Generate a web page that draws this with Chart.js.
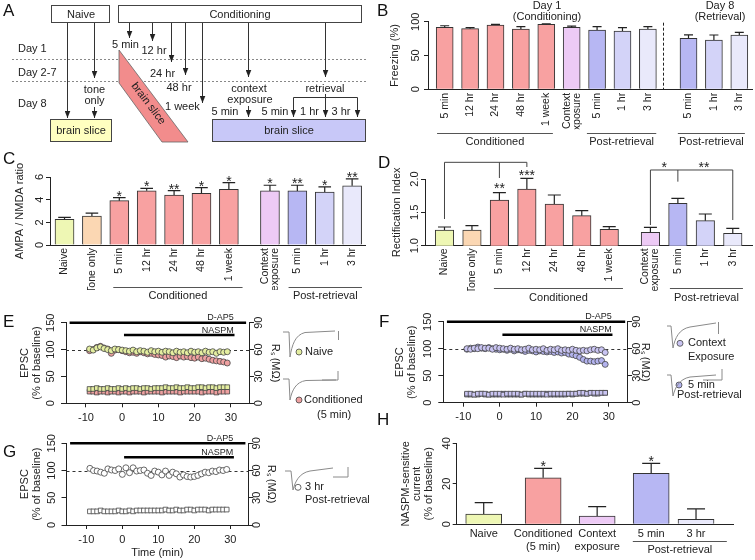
<!DOCTYPE html>
<html>
<head>
<meta charset="utf-8">
<title>AMPA receptor figure</title>
<script src="https://cdn.jsdelivr.net/npm/chart.js@4.4.1/dist/chart.umd.min.js"></script>
<style>
  html, body { margin: 0; padding: 0; background: #fff; }
  body { position: relative; width: 755px; height: 560px; overflow: hidden; }
  canvas { position: absolute; }
  #sketch { position: absolute; left: 0; top: 0; pointer-events: none; }
</style>
</head>
<body>
<canvas id="chB"></canvas>
<canvas id="chC"></canvas>
<canvas id="chD"></canvas>
<canvas id="chE"></canvas>
<canvas id="chF"></canvas>
<canvas id="chG"></canvas>
<canvas id="chH"></canvas>

<svg id="sketch" width="755" height="560" font-family="Liberation Sans, Arial, sans-serif">
  <defs>
    <marker id="ah" viewBox="0 0 10 8" refX="10" refY="4" markerWidth="7" markerHeight="6" markerUnits="userSpaceOnUse" orient="auto">
      <path d="M0,0 L10,4 L0,8 Z" fill="#222"/>
    </marker>
  </defs>
  <!-- panel letters -->
  <g font-size="17" fill="#111">
    <text x="3" y="15.5">A</text>
    <text x="377" y="15.5">B</text>
    <text x="3" y="163.5">C</text>
    <text x="378" y="168">D</text>
    <text x="3" y="327">E</text>
    <text x="379" y="327">F</text>
    <text x="3" y="457">G</text>
    <text x="377" y="425">H</text>
  </g>
  <!-- panel A: protocol -->
  <g font-size="11" fill="#222">
    <rect x="51.5" y="5.5" width="58" height="17" fill="#fff" stroke="#444"/>
    <text x="81" y="18" text-anchor="middle">Naive</text>
    <rect x="118.5" y="5.5" width="243" height="17" fill="#fff" stroke="#444"/>
    <text x="240" y="18" text-anchor="middle">Conditioning</text>
    <text x="18" y="52">Day 1</text>
    <text x="18" y="76">Day 2-7</text>
    <text x="18" y="107">Day 8</text>
    <g stroke="#888" stroke-dasharray="2 2">
      <line x1="12" y1="59.5" x2="367" y2="59.5"/>
      <line x1="12" y1="81.5" x2="367" y2="81.5"/>
    </g>
    <polygon points="119,50 119,83 162,142 188,142" fill="#f28c8c" stroke="#666" stroke-width="0.8"/>
    <text transform="translate(149,103) rotate(53)" text-anchor="middle" dy="4">brain slice</text>
    <g stroke="#333" marker-end="url(#ah)">
      <line x1="67.5" y1="23" x2="67.5" y2="118"/>
      <line x1="94.5" y1="23" x2="94.5" y2="78"/>
      <line x1="94.5" y1="107" x2="94.5" y2="118"/>
      <line x1="129.5" y1="23" x2="129.5" y2="38"/>
      <line x1="152.5" y1="23" x2="152.5" y2="41"/>
      <line x1="171.5" y1="23" x2="171.5" y2="62"/>
      <line x1="185.5" y1="23" x2="185.5" y2="75"/>
      <line x1="202.5" y1="23" x2="202.5" y2="103"/>
      <line x1="248.5" y1="23" x2="248.5" y2="77"/>
      <line x1="248.5" y1="106" x2="248.5" y2="117"/>
      <line x1="325.5" y1="23" x2="325.5" y2="77"/>
      <line x1="325.5" y1="94" x2="325.5" y2="117"/>
      <line x1="293.5" y1="97.5" x2="293.5" y2="117"/>
      <line x1="357.5" y1="97.5" x2="357.5" y2="117"/>
    </g>
    <line x1="293.5" y1="97.5" x2="357.5" y2="97.5" stroke="#333"/>
    <text x="94.5" y="93" text-anchor="middle">tone</text>
    <text x="94.5" y="104" text-anchor="middle">only</text>
    <text x="112" y="48">5 min</text>
    <text x="141.5" y="54">12 hr</text>
    <text x="150" y="77">24 hr</text>
    <text x="166.5" y="91">48 hr</text>
    <text x="165" y="110">1 week</text>
    <text x="249" y="92" text-anchor="middle">context</text>
    <text x="250" y="103" text-anchor="middle">exposure</text>
    <text x="211.5" y="114.5">5 min</text>
    <text x="325" y="92" text-anchor="middle">retrieval</text>
    <text x="261.5" y="114.5">5 min</text>
    <text x="300" y="114.5">1 hr</text>
    <text x="331.5" y="114.5">3 hr</text>
    <rect x="50.5" y="119.5" width="61" height="22" fill="#ffffc0" stroke="#444"/>
    <text x="81" y="134" text-anchor="middle">brain slice</text>
    <rect x="212.5" y="119.5" width="153" height="22" fill="#c8c8f8" stroke="#444"/>
    <text x="289" y="134" text-anchor="middle">brain slice</text>
  </g>
  <!-- sample EPSC traces with scale bars -->
  <g fill="none" stroke="#8a8a8a" stroke-width="1">
    <path d="M283,332 L289,332 L290,357 C292,345 295,335 305,332.5 L335,331"/>
    <path d="M338.5,331 V340"/>
    <path d="M283,379 L289,379 L290,400 C292,390 296,382 306,380.5 L336,380"/>
    <path d="M322,380 H338 V371"/>
    <path d="M667,326 L671,326 L673,348 C675,338 679,329 690,327 L716,323"/>
    <path d="M718.5,322 V334"/>
    <path d="M667,375 L671,375 L673,396 C675,388 679,379 690,377 L716,375"/>
    <path d="M703,380 H722 V369"/>
    <path d="M285,471 L291,471 L293,490 C295,482 299,473 310,471 L333,468"/>
    <path d="M333,477 H348 V467"/>
  </g>
</svg>

<script>
// ---------------- data ----------------
// B: freezing during conditioning (day 1) and retrieval (day 8)
const catB = ['5 min', '12 hr', '24 hr', '48 hr', '1 week', ['Context', 'exposure'], '5 min', '1 hr', '3 hr', '5 min', '1 hr', '3 hr'];
const freezing = [91.6, 89.7, 95, 89.2, 96, 91.6, 87.7, 86.2, 89.2, 75.4, 72.9, 80.3];
const freezingErr = [2.4, 1.5, 1, 3.4, 1, 2, 5, 5, 3.4, 5, 7.4, 4];
const ticksB = [0, 50, 100];

// C and D share the groups
const catCD = ['Naive', 'Tone only', '5 min', '12 hr', '24 hr', '48 hr', '1 week', ['Context', 'exposure'], '5 min', '1 hr', '3 hr'];
const ampaNmda = [2.27, 2.56, 3.91, 4.79, 4.41, 4.56, 4.91, 4.77, 4.77, 4.68, 5.23];
const ampaNmdaErr = [0.17, 0.25, 0.27, 0.2, 0.38, 0.5, 0.6, 0.5, 0.5, 0.45, 0.6];
const ampaStars = ['', '', '*', '*', '**', '*', '*', '*', '**', '*', '**'];
const ticksC = [0, 2, 4, 6];

const rectIndex = [1.235, 1.235, 1.685, 1.85, 1.625, 1.45, 1.245, 1.2, 1.635, 1.375, 1.185];
const rectErr = [0.045, 0.065, 0.11, 0.16, 0.135, 0.075, 0.04, 0.075, 0.075, 0.1, 0.075];
const ticksD = [1.0, 1.5, 2.0];

// E-G: time courses (one point per minute)
const timeMin = [-9, -8, -7, -6, -5, -4, -3, -2, -1, 0, 1, 2, 3, 4, 5, 6, 7, 8, 9, 10,
                 11, 12, 13, 14, 15, 16, 17, 18, 19, 20, 21, 22, 23, 24, 25, 26, 27, 28, 29];
const timeTicks = [-10, 0, 10, 20, 30];
const epscTicks = [0, 50, 100, 150];
const rsTicks = [0, 30, 60, 90];

const epscNaive = [101, 99, 103, 105, 102, 100, 98, 101, 100, 99,
                   98, 97, 99, 96, 98, 97, 95, 98, 96, 97,
                   95, 97, 96, 94, 97, 95, 96, 94, 97, 95,
                   96, 94, 97, 95, 96, 93, 96, 95, 96];
const epscCond5 = [98, 100, 104, 106, 103, 101, 93, 99, 100, 98,
                   96, 94, 95, 93, 96, 94, 92, 93, 91, 90,
                   89, 86, 88, 87, 85, 88, 86, 87, 85, 84,
                   86, 83, 84, 82, 80, 79, 78, 77, 75];
const rsNaive = [16, 16, 17, 16, 16, 17, 16, 16, 17, 16,
                 17, 16, 17, 17, 16, 17, 17, 16, 17, 17,
                 17, 18, 17, 17, 18, 17, 17, 18, 17, 17,
                 18, 18, 17, 18, 18, 17, 18, 18, 18];
const rsCond5 = [13, 13, 12, 13, 13, 12, 13, 13, 12, 13,
                 13, 12, 13, 13, 13, 12, 13, 13, 13, 13,
                 12, 13, 13, 13, 13, 12, 13, 13, 13, 13,
                 13, 12, 13, 13, 13, 12, 13, 13, 13];

const epscContext = [100, 99, 101, 100, 102, 101, 101, 99, 102, 101,
                     100, 99, 101, 99, 100, 98, 99, 101, 98, 99,
                     98, 100, 97, 99, 98, 100, 97, 98, 97, 99,
                     97, 96, 97, 96, 98, 99, 97, 98, 93];
const epscPost5 = [99, 101, 100, 103, 101, 100, 102, 100, 99, 98,
                   99, 97, 99, 96, 98, 97, 95, 97, 96, 94,
                   96, 95, 94, 95, 93, 94, 92, 93, 90, 89,
                   87, 84, 80, 77, 77, 76, 77, 78, 71];
const rsContext = [10, 10, 9, 10, 10, 10, 9, 10, 10, 10,
                   9, 10, 10, 10, 10, 9, 10, 10, 10, 10,
                   10, 10, 9, 10, 10, 10, 10, 10, 10, 10,
                   10, 11, 11, 10, 11, 11, 11, 11, 11];
const rsPost5 = [9, 9, 9, 9, 10, 9, 9, 9, 9, 9,
                 10, 9, 9, 9, 9, 9, 10, 9, 9, 9,
                 9, 9, 10, 9, 9, 9, 9, 9, 10, 9,
                 10, 10, 10, 10, 11, 10, 10, 11, 11];

const epscPost3h = [104, 100, 99, 97, 95, 103, 101, 100, 103, 93,
                    105, 96, 105, 99, 100, 101, 95, 91, 99, 97,
                    92, 99, 91, 97, 94, 88, 92, 89, 88, 89,
                    91, 94, 97, 96, 99, 98, 101, 100, 102];
const rsPost3h = [15, 15, 15, 16, 15, 15, 15, 15, 16, 15,
                  15, 16, 15, 16, 16, 16, 16, 16, 16, 16,
                  16, 17, 16, 16, 17, 16, 16, 17, 17, 16,
                  17, 17, 17, 16, 17, 17, 17, 17, 17];

// H: NASPM-sensitive current
const catH = ['Naive', ['Conditioned', '(5 min)'], ['Context', 'exposure'], '5 min', '3 hr'];
const naspm = [5.1, 23, 4.1, 25.2, 2.5];
const naspmErr = [5.6, 4.6, 4.6, 4.9, 5.1];
const naspmStars = ['', '*', '', '*', ''];
const ticksH = [0, 20, 40];

// ---------------- style ----------------
const FONT = '"Liberation Sans", Arial, sans-serif';
const INK = '#222';
const NAIVE = '#eef7b4', TONE = '#fbd7b3', COND = '#f8a1a1', CTX = '#edcaf5',
      P5 = '#b7b7f3', P1 = '#d3d3f8', P3 = '#e9e9fb';

Chart.defaults.font.family = FONT;
Chart.defaults.font.size = 11;
Chart.defaults.color = INK;
Chart.defaults.animation = false;
Chart.defaults.responsive = false;
Chart.defaults.plugins.legend.display = false;
Chart.defaults.plugins.tooltip.enabled = false;

// slot of each bar on its linear x axis (gaps between groups)
const slotB = catB.map((c, i) => i < 9 ? i + 1 : i + 1.6);
const slotCD = catCD.map((c, i) => i < 7 ? i + 1 : i + 1.5);
const slotH = [0.5, 1.6, 2.6, 3.6, 4.43];

// canvas placed so that the chart area lands on b.a (page px)
function place(id, b) {
  const cv = document.getElementById(id);
  cv.width = b.cr - b.cl;
  cv.height = b.cb - b.ct;
  cv.style.left = b.cl + 'px';
  cv.style.top = b.ct + 'px';
  return {
    cv,
    padding: {
      left: b.a.l - b.cl - b.yW,
      right: b.cr - b.a.r - (b.rW || 0),
      top: b.a.t - b.ct,
      bottom: b.cb - b.a.b - b.xH
    }
  };
}

// y tick labels drawn turned a quarter, as in the figure
const rotY = {
  id: 'rotY',
  afterDraw(chart, args, o) {
    const ctx = chart.ctx;
    ctx.save();
    ctx.fillStyle = INK;
    ctx.font = '11px ' + FONT;
    ctx.textAlign = 'center';
    ctx.textBaseline = 'middle';
    o.axes.forEach(ax => {
      const s = chart.scales[ax.id];
      const x = s.position === 'right' ? s.left + ax.off : s.right - ax.off;
      s.ticks.forEach(t => {
        ctx.save();
        ctx.translate(x, s.getPixelForValue(t.value));
        ctx.rotate(-Math.PI / 2);
        ctx.fillText((ax.fmt || String)(t.value), 0, 0);
        ctx.restore();
      });
    });
    ctx.restore();
  }
};

function yAxis(width, o) {
  return {
    position: o.pos || 'left',
    min: o.min, max: o.max,
    afterBuildTicks: s => { s.ticks = o.ticks.map(v => ({ value: v })); },
    afterFit: s => { s.width = width; },
    grid: { drawOnChartArea: false, tickLength: o.tl || 4, color: INK },
    border: { color: INK, width: 1 },
    ticks: { display: false },
    title: {
      display: true, text: o.title, color: INK,
      font: { size: 11, lineHeight: o.lh || 1.2 },
      padding: { top: o.tp, bottom: 0 }
    }
  };
}

function star(ctx, s, x, yc) {
  ctx.font = '14px ' + FONT;
  ctx.textAlign = 'center';
  ctx.textBaseline = 'alphabetic';
  ctx.fillText(s, x, yc + 0.57 * 14);
}

// error bars, stars, group lines, brackets
const barDeco = {
  id: 'barDeco',
  afterDatasetsDraw(chart, args, o) {
    const { ctx, chartArea: a } = chart;
    const xs = chart.scales.x, ys = chart.scales.y;
    const meta = chart.getDatasetMeta(0);
    const pts = chart.data.datasets[0].data;
    ctx.save();
    ctx.strokeStyle = INK;
    ctx.fillStyle = INK;
    ctx.lineWidth = 1.2;
    o.err.forEach((e, i) => {
      const x = meta.data[i].x;
      const y0 = ys.getPixelForValue(pts[i].y), y1 = ys.getPixelForValue(pts[i].y + e);
      ctx.beginPath();
      ctx.moveTo(x, y0); ctx.lineTo(x, y1);
      ctx.moveTo(x - o.cap, y1); ctx.lineTo(x + o.cap, y1);
      ctx.stroke();
      if (o.stars && o.stars[i]) star(ctx, o.stars[i], x, y1 - 5);
    });

    ctx.lineWidth = 1;
    ctx.strokeStyle = '#555';
    (o.groups || []).forEach(g => {
      const x0 = xs.getPixelForValue(g.from), x1 = xs.getPixelForValue(g.to);
      const y = Math.round(a.bottom + g.line) + 0.5;
      ctx.beginPath(); ctx.moveTo(x0, y); ctx.lineTo(x1, y); ctx.stroke();
      ctx.font = '11px ' + FONT;
      ctx.textAlign = 'center';
      ctx.textBaseline = 'middle';
      ctx.fillText(g.text, (x0 + x1) / 2, a.bottom + g.label);
    });

    if (o.vdash) {
      const x = Math.round(xs.getPixelForValue(o.vdash)) + 0.5;
      ctx.save();
      ctx.setLineDash([3, 2]);
      ctx.strokeStyle = INK;
      ctx.beginPath(); ctx.moveTo(x, a.top + 1); ctx.lineTo(x, a.bottom); ctx.stroke();
      ctx.restore();
    }

    (o.brackets || []).forEach(br => {
      const yt = ys.getPixelForValue(br.top);
      const xsb = br.legs.map(i => meta.data[i].x);
      ctx.strokeStyle = '#444';
      ctx.beginPath();
      ctx.moveTo(xsb[0], yt); ctx.lineTo(xsb[xsb.length - 1], yt);
      xsb.forEach((x, k) => { ctx.moveTo(x, yt); ctx.lineTo(x, ys.getPixelForValue(br.ends[k])); });
      ctx.stroke();
    });

    (o.texts || []).forEach(t => {
      const x = xs.getPixelForValue(t.x);
      const y = t.v !== undefined ? ys.getPixelForValue(t.v) : a.top + t.dy;
      if (t.star) { star(ctx, t.text, x, y); return; }
      ctx.font = '11px ' + FONT;
      ctx.textAlign = 'center';
      ctx.textBaseline = 'middle';
      ctx.fillText(t.text, x, y);
    });
    ctx.restore();
  }
};

function barChart(id, b, o) {
  const p = place(id, b);
  const ppu = (b.a.r - b.a.l) / (o.xMax - o.xMin);
  const fs = o.xFont || 11;
  const lhPx = fs * (o.xLh || 1.2);
  const shift = i => (o.rot && Array.isArray(o.cats[i])) ? -(o.cats[i].length - 1) * lhPx / 2 / ppu : 0;
  return new Chart(p.cv, {
    type: 'bar',
    data: {
      datasets: [{
        data: o.slots.map((s, i) => ({ x: s, y: o.values[i] })),
        backgroundColor: o.colors,
        borderColor: '#333',
        borderWidth: 1,
        barThickness: o.barW
      }]
    },
    options: {
      layout: { padding: p.padding },
      scales: {
        x: {
          type: 'linear', min: o.xMin, max: o.xMax, offset: false,
          afterBuildTicks: s => { s.ticks = o.slots.map((v, i) => ({ value: v + shift(i) })); },
          afterFit: s => { s.height = b.xH; },
          grid: { display: false, drawTicks: false },
          border: { color: INK, width: 1 },
          ticks: {
            autoSkip: false, minRotation: o.rot, maxRotation: o.rot, padding: o.xPad,
            color: INK, font: { size: fs, lineHeight: o.xLh || 1.2 },
            callback: (v, i) => o.cats[i]
          }
        },
        y: yAxis(b.yW, o.y)
      },
      plugins: {
        barDeco: o.deco,
        rotY: { axes: [{ id: 'y', off: o.y.off, fmt: o.y.fmt }] }
      }
    },
    plugins: [barDeco, rotY]
  });
}

// dashed baseline, drug bars, legend
const course = {
  id: 'course',
  beforeDatasetsDraw(chart, args, o) {
    const { ctx, chartArea: a } = chart;
    const y = Math.round(chart.scales.y.getPixelForValue(100)) + 0.5;
    ctx.save();
    ctx.strokeStyle = '#333';
    ctx.lineWidth = 1;
    ctx.setLineDash([3, 3]);
    ctx.beginPath(); ctx.moveTo(a.left, y); ctx.lineTo(a.right, y); ctx.stroke();
    ctx.restore();
  },
  afterDraw(chart, args, o) {
    const { ctx, chartArea: a } = chart;
    const xs = chart.scales.x, ys = chart.scales.y;
    ctx.save();
    o.drugs.forEach(d => {
      const y = ys.getPixelForValue(d.v);
      ctx.strokeStyle = '#000';
      ctx.lineWidth = 2.5;
      ctx.beginPath();
      ctx.moveTo(xs.getPixelForValue(d.from), y);
      ctx.lineTo(xs.getPixelForValue(d.to), y);
      ctx.stroke();
      ctx.font = '9px ' + FONT;
      ctx.fillStyle = INK;
      ctx.textAlign = 'right';
      ctx.textBaseline = 'alphabetic';
      ctx.fillText(d.text, xs.getPixelForValue(d.textAt), y - 2.5);
    });
    o.legend.forEach(l => {
      const ds = chart.data.datasets[l.ds];
      ctx.beginPath();
      ctx.arc(a.right + l.dx, a.top + l.dy, 3, 0, 2 * Math.PI);
      ctx.fillStyle = ds.backgroundColor;
      ctx.fill();
      ctx.lineWidth = 0.8;
      ctx.strokeStyle = ds.borderColor;
      ctx.stroke();
      ctx.fillStyle = INK;
      ctx.font = '11px ' + FONT;
      ctx.textAlign = 'left';
      ctx.textBaseline = 'middle';
      l.lines.forEach(t => ctx.fillText(t[0], a.right + t[1], a.top + t[2]));
    });
    ctx.restore();
  }
};

function courseChart(id, b, o) {
  const p = place(id, b);
  const datasets = o.series.map(s => ({
    data: timeMin.map((t, i) => ({ x: t, y: s.y[i] })),
    yAxisID: s.axis,
    pointStyle: s.shape,
    radius: s.shape === 'rect' ? 3.3 : 3,
    backgroundColor: s.fill,
    borderColor: '#444',
    borderWidth: 0.8
  }));
  const left = yAxis(b.yW, { min: 0, max: 150, ticks: epscTicks, tl: 5, title: ['EPSC', '(% of baseline)'], lh: 1.1, tp: o.lTp });
  const right = yAxis(b.rW, { pos: 'right', min: 0, max: 90, ticks: rsTicks, tl: 5, title: 'R\u209B (M\u03A9)', tp: o.rTp });
  return new Chart(p.cv, {
    type: 'scatter',
    data: { datasets },
    options: {
      layout: { padding: p.padding },
      scales: {
        x: {
          type: 'linear', min: -15.5, max: 35,
          afterBuildTicks: s => { s.ticks = timeTicks.map(v => ({ value: v })); },
          afterFit: s => { s.height = b.xH; },
          grid: { drawOnChartArea: false, tickLength: 4, color: INK },
          border: { color: INK, width: 1 },
          ticks: { padding: 4, color: INK, font: { size: 11 } },
          title: { display: !!o.xTitle, text: o.xTitle, color: INK, font: { size: 11 }, padding: { top: 0, bottom: 0 } }
        },
        y: left,
        y2: right
      },
      plugins: {
        course: o.deco,
        rotY: { axes: [{ id: 'y', off: o.lOff }, { id: 'y2', off: o.rOff }] }
      }
    },
    plugins: [course, rotY]
  });
}

// ---------------- panels ----------------
barChart('chB', { cl: 383, ct: 0, cr: 755, cb: 152, yW: 45, xH: 40, a: { l: 428, t: 21.7, r: 752, b: 89.3 } }, {
  cats: catB, values: freezing, slots: slotB, xMin: 0.343, xMax: 13.1, barW: 17, rot: 90, xPad: 3.5, xLh: 0.95, xFont: 10.5,
  colors: [COND, COND, COND, COND, COND, CTX, P5, P1, P3, P5, P1, P3],
  y: { min: 0, max: 100, ticks: ticksB, off: 12, title: 'Freezing (%)', tp: 5.4 },
  deco: {
    err: freezingErr, cap: 4.5,
    groups: [
      { from: 0.7, to: 5.26, text: 'Conditioned', line: 43.7, label: 52.7 },
      { from: 6.6, to: 9.33, text: 'Post-retrieval', line: 43.7, label: 52.7 },
      { from: 10.18, to: 12.82, text: 'Post-retrieval', line: 43.7, label: 52.7 }
    ],
    vdash: 9.6,
    texts: [
      { x: 5.03, dy: -16.2, text: 'Day 1' },
      { x: 5.03, dy: -5.2, text: '(Conditioning)' },
      { x: 11.84, dy: -16.2, text: 'Day 8' },
      { x: 11.84, dy: -5.2, text: '(Retrieval)' }
    ]
  }
});

const colorsCD = [NAIVE, TONE, COND, COND, COND, COND, COND, CTX, P5, P1, P3];

barChart('chC', { cl: 5, ct: 160, cr: 372, cb: 318, yW: 45, xH: 45, a: { l: 50, t: 177, r: 365, b: 245 } }, {
  cats: catCD, values: ampaNmda, slots: slotCD, xMin: 0.47, xMax: 11.97, barW: 19, rot: 90, xPad: 3, xLh: 0.95, xFont: 10.5,
  colors: colorsCD,
  y: { min: 0, max: 6, ticks: ticksC, off: 10, title: 'AMPA / NMDA ratio', tp: 8.4 },
  deco: {
    err: ampaNmdaErr, cap: 6.3, stars: ampaStars,
    groups: [
      { from: 2.78, to: 7.5, text: 'Conditioned', line: 41.7, label: 51 },
      { from: 9.18, to: 11.86, text: 'Post-retrieval', line: 41.7, label: 51 }
    ]
  }
});

barChart('chD', { cl: 382, ct: 148, cr: 755, cb: 318, yW: 43, xH: 45, a: { l: 425, t: 179, r: 752, b: 245.7 } }, {
  cats: catCD, values: rectIndex, slots: slotCD, xMin: 0.29, xMax: 12.2, barW: 18.5, rot: 90, xPad: 2.6, xLh: 0.95, xFont: 10.5,
  colors: colorsCD,
  y: { min: 1, max: 2, ticks: ticksD, off: 10, title: 'Rectification Index', tp: 8.1, fmt: v => v.toFixed(1) },
  deco: {
    err: rectErr, cap: 6.5,
    groups: [
      { from: 2.8, to: 7.5, text: 'Conditioned', line: 42, label: 52 },
      { from: 9.21, to: 11.87, text: 'Post-retrieval', line: 42, label: 52 }
    ],
    brackets: [
      { legs: [0, 2, 3], top: 2.25, ends: [1.40, 2.015, 2.18] },
      { legs: [7, 8, 10], top: 2.135, ends: [1.31, 1.96, 1.385] }
    ],
    texts: [
      { x: 3, v: 1.91, text: '**', star: true },
      { x: 4, v: 2.11, text: '***', star: true },
      { x: 9.0, v: 2.22, text: '*', star: true },
      { x: 10.45, v: 2.22, text: '**', star: true }
    ]
  }
});

courseChart('chE', { cl: 12, ct: 305, cr: 380, cb: 426, yW: 54, rW: 33, xH: 22, a: { l: 66, t: 322.7, r: 249, b: 403.3 } }, {
  lOff: 15, lTp: 7, rOff: 10, rTp: 0.4,
  series: [
    { y: epscNaive, axis: 'y', shape: 'circle', fill: '#e4eea0' },
    { y: epscCond5, axis: 'y', shape: 'circle', fill: '#eea0a0' },
    { y: rsNaive, axis: 'y2', shape: 'rect', fill: '#e4eea0' },
    { y: rsCond5, axis: 'y2', shape: 'rect', fill: '#eea0a0' }
  ],
  deco: {
    drugs: [
      { from: -14.5, to: 34.2, v: 150, text: 'D-AP5', textAt: 30.8 },
      { from: 0.5, to: 31, v: 127, text: 'NASPM', textAt: 30.8 }
    ],
    legend: [
      { ds: 0, dx: 50, dy: 29.3, lines: [['Naive', 56, 29.3]] },
      { ds: 1, dx: 50, dy: 77.3, lines: [['Conditioned', 55, 77.3], ['(5 min)', 68, 92.3]] }
    ]
  }
});

courseChart('chF', { cl: 388, ct: 305, cr: 755, cb: 426, yW: 55.3, rW: 25, xH: 22, a: { l: 443.3, t: 321.7, r: 627, b: 402.7 } }, {
  lOff: 15, lTp: 6, rOff: 10, rTp: 0.4,
  series: [
    { y: epscContext, axis: 'y', shape: 'circle', fill: '#c9c4f2' },
    { y: epscPost5, axis: 'y', shape: 'circle', fill: '#b3b3ee' },
    { y: rsContext, axis: 'y2', shape: 'rect', fill: '#c9c4f2' },
    { y: rsPost5, axis: 'y2', shape: 'rect', fill: '#b3b3ee' }
  ],
  deco: {
    drugs: [
      { from: -14.5, to: 34.5, v: 150, text: 'D-AP5', textAt: 30.8 },
      { from: 0.75, to: 31, v: 126, text: 'NASPM', textAt: 30.8 }
    ],
    legend: [
      { ds: 0, dx: 53, dy: 21.6, lines: [['Context', 61, 21.6], ['Exposure', 61, 35]] },
      { ds: 1, dx: 52, dy: 63.3, lines: [['5 min', 61, 63.3], ['Post-retrieval', 50, 73.3]] }
    ]
  }
});

courseChart('chG', { cl: 12, ct: 428, cr: 380, cb: 560, yW: 54.5, rW: 33, xH: 35, a: { l: 66.5, t: 443.3, r: 248.3, b: 525 } }, {
  lOff: 15, lTp: 7, rOff: 9, rTp: 4, xTitle: 'Time (min)',
  series: [
    { y: epscPost3h, axis: 'y', shape: 'circle', fill: '#ffffff' },
    { y: rsPost3h, axis: 'y2', shape: 'rect', fill: '#ffffff' }
  ],
  deco: {
    drugs: [
      { from: -14.5, to: 34.2, v: 150, text: 'D-AP5', textAt: 30.8 },
      { from: 0.5, to: 31, v: 124.3, text: 'NASPM', textAt: 30.8 }
    ],
    legend: [
      { ds: 0, dx: 49.7, dy: 44, lines: [['3 hr', 56.7, 44], ['Post-retrieval', 56.7, 56.7]] }
    ]
  }
});

barChart('chH', { cl: 395, ct: 430, cr: 755, cb: 560, yW: 61.7, xH: 35.7, a: { l: 456.7, t: 443.3, r: 733.3, b: 524.3 } }, {
  cats: catH, values: naspm, slots: slotH, xMin: 0, xMax: 5.12, barW: 36, rot: 0, xPad: 3.35, xLh: 1.15,
  colors: [NAIVE, COND, CTX, P5, P3],
  y: { min: 0, max: 40, ticks: ticksH, off: 10, title: ['NASPM-sensitive', 'current', '(% of baseline)'], lh: 1.064, tp: 4.85 },
  deco: {
    err: naspmErr, cap: 9, stars: naspmStars,
    groups: [
      { from: 3.26, to: 5.0, text: 'Post-retrieval', line: 16.7, label: 25.7 }
    ]
  }
});
</script>
</body>
</html>
